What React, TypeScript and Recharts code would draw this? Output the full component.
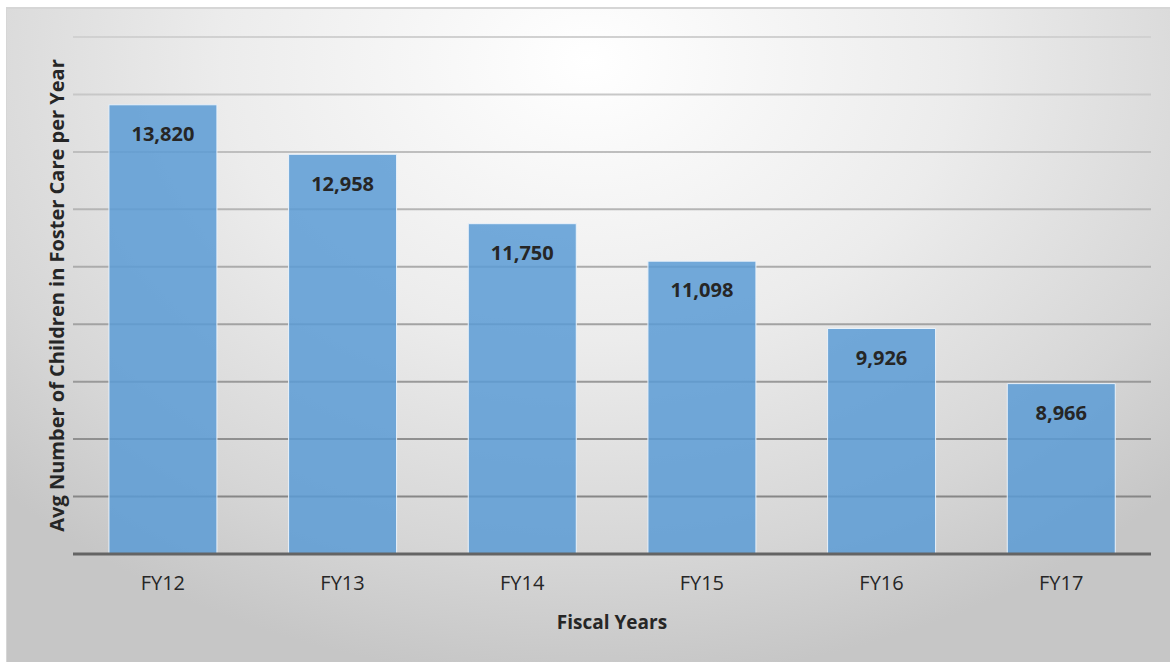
import React from 'react';
import { BarChart, Bar, XAxis, YAxis, CartesianGrid, LabelList, Label } from 'recharts';

const years = ['FY12', 'FY13', 'FY14', 'FY15', 'FY16', 'FY17'];
const avgChildren = [13820, 12958, 11750, 11098, 9926, 8966];
const yTicks = [6000, 7000, 8000, 9000, 10000, 11000, 12000, 13000, 14000, 15000];

const data = years.map((name, i) => ({ name, value: avgChildren[i] }));

const FONT = '"Open Sans", Calibri, sans-serif';

// y-axis numbers are not shown in the original, only the gridlines
const NoTick = () => <g />;

export default function App() {
  return (
    <div style={{ position: 'absolute', left: 0, top: 0, width: 1170, height: 662, fontFamily: FONT }}>
      {/* chart area panel with soft radial shading */}
      <div
        style={{
          position: 'absolute',
          left: 6,
          top: 7,
          width: 1164,
          height: 655,
          boxSizing: 'border-box',
          borderTop: '2px solid #d6d6d6',
          borderLeft: '1px solid #d6d6d6',
          background: 'radial-gradient(ellipse 70% 95% at 50% 8%, #ffffff 0%, #ececec 45%, #d6d6d6 80%, #c6c6c6 100%)',
        }}
      />
      <div style={{ position: 'absolute', left: 0, top: 0 }}>
        <BarChart
          width={1170}
          height={662}
          data={data}
          margin={{ top: 37, right: 19, left: 41, bottom: 0 }}
          barCategoryGap="20%"
        >
          <defs>
            {/* gridlines get darker toward the baseline */}
            <linearGradient id="gridGrad" gradientUnits="userSpaceOnUse" x1="0" y1="30" x2="0" y2="560">
              <stop offset="0%" stopColor="#d2d2d2" />
              <stop offset="100%" stopColor="#7c7c7c" />
            </linearGradient>
          </defs>
          <CartesianGrid vertical={false} stroke="url(#gridGrad)" strokeWidth={2} />
          <XAxis
            dataKey="name"
            height={108}
            axisLine={{ stroke: '#646464', strokeWidth: 3 }}
            tickLine={false}
            tickSize={0}
            tickMargin={22}
            tick={{ fill: '#262626', fontSize: 20, fontFamily: FONT }}
          >
            <Label
              value="Fiscal Years"
              position="insideBottom"
              offset={33}
              style={{ fill: '#262626', fontSize: 19, fontWeight: 700, fontFamily: FONT }}
            />
          </XAxis>
          <YAxis
            width={32}
            domain={[6000, 15000]}
            ticks={yTicks}
            tick={NoTick}
            axisLine={false}
            tickLine={false}
            allowDataOverflow
          >
            <Label
              value="Avg Number of Children in Foster Care per Year"
              angle={-90}
              position="center"
              style={{ fill: '#262626', fontSize: 20, fontWeight: 700, fontFamily: FONT }}
            />
          </YAxis>
          <Bar
            dataKey="value"
            fill="#5b9bd5"
            fillOpacity={0.85}
            stroke="#eaf2fa"
            strokeWidth={1}
            isAnimationActive={false}
          >
            <LabelList
              dataKey="value"
              position="insideTop"
              offset={22}
              formatter={(v: number) => v.toLocaleString('en-US')}
              style={{ fill: '#262626', fontSize: 20, fontWeight: 700, fontFamily: FONT }}
            />
          </Bar>
        </BarChart>
      </div>
    </div>
  );
}
